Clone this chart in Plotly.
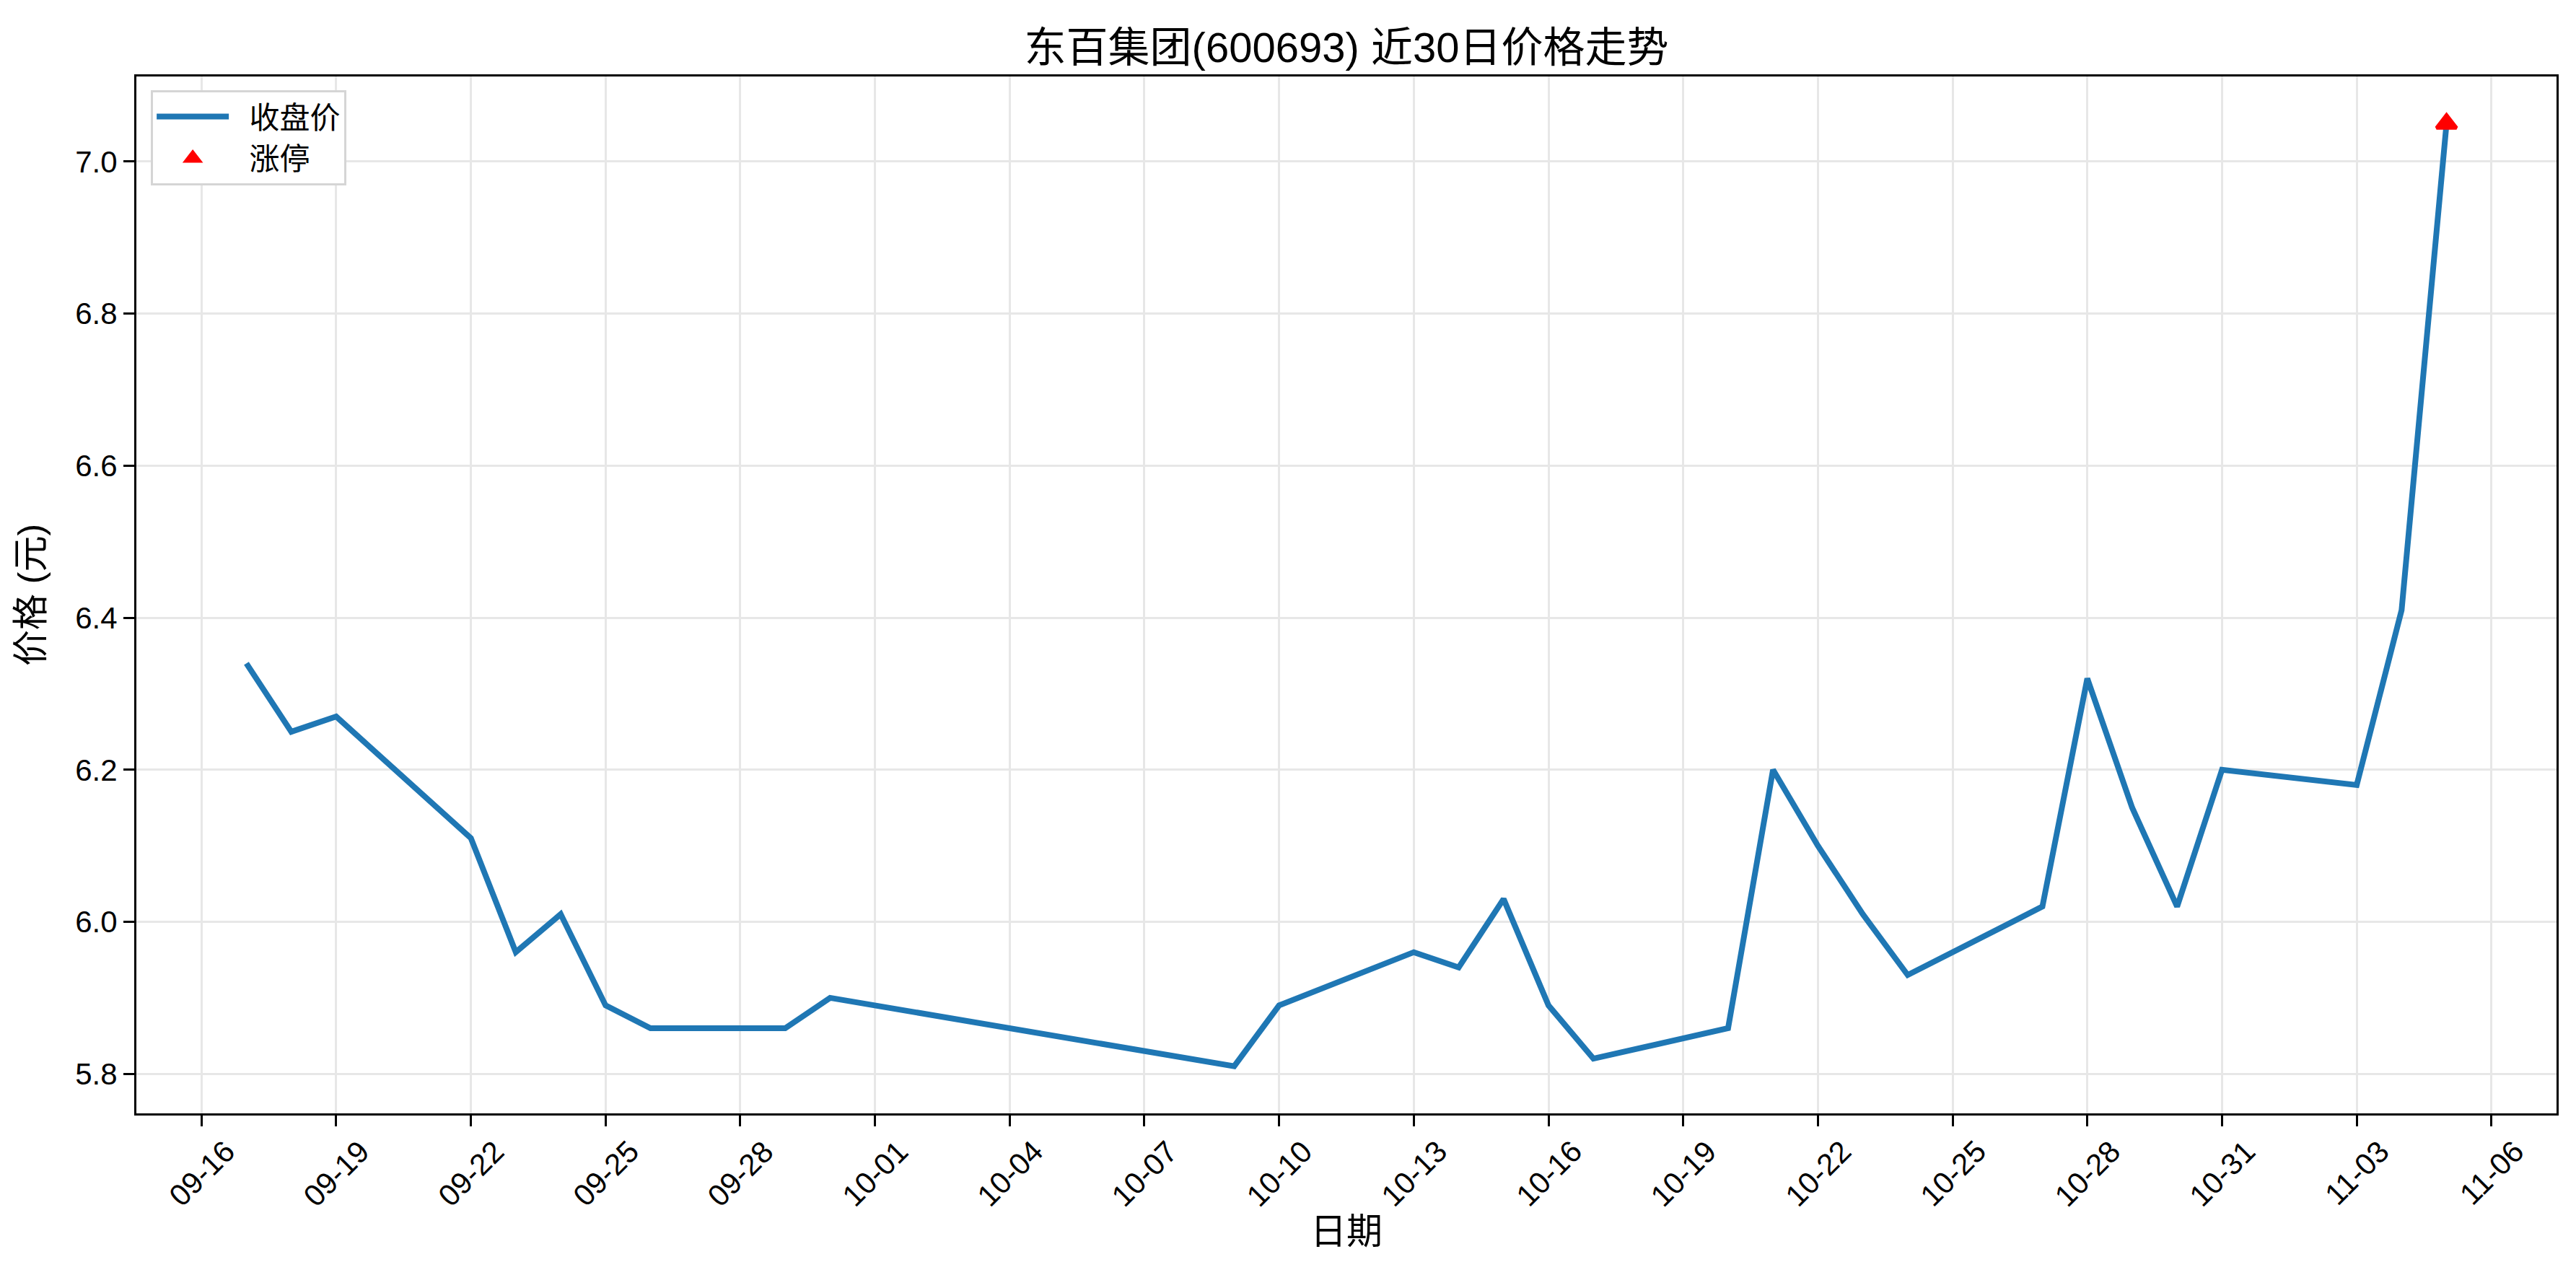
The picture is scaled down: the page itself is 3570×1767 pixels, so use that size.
import plotly.graph_objects as go

# closing prices, last 30 trading days (2025)
dates = [
    "2025-09-17", "2025-09-18", "2025-09-19", "2025-09-22", "2025-09-23",
    "2025-09-24", "2025-09-25", "2025-09-26", "2025-09-29", "2025-09-30",
    "2025-10-09", "2025-10-10", "2025-10-13", "2025-10-14", "2025-10-15",
    "2025-10-16", "2025-10-17", "2025-10-20", "2025-10-21", "2025-10-22",
    "2025-10-23", "2025-10-24", "2025-10-27", "2025-10-28", "2025-10-29",
    "2025-10-30", "2025-10-31", "2025-11-03", "2025-11-04", "2025-11-05",
]
close = [
    6.34, 6.25, 6.27, 6.11, 5.96,
    6.01, 5.89, 5.86, 5.86, 5.90,
    5.81, 5.89, 5.96, 5.94, 6.03,
    5.89, 5.82, 5.86, 6.20, 6.10,
    6.01, 5.93, 6.02, 6.32, 6.15,
    6.02, 6.20, 6.18, 6.41, 7.05,
]

limit_up_dates = ["2025-11-05"]
limit_up_close = [7.05]

tick_dates = [
    "2025-09-16", "2025-09-19", "2025-09-22", "2025-09-25", "2025-09-28",
    "2025-10-01", "2025-10-04", "2025-10-07", "2025-10-10", "2025-10-13",
    "2025-10-16", "2025-10-19", "2025-10-22", "2025-10-25", "2025-10-28",
    "2025-10-31", "2025-11-03", "2025-11-06",
]
tick_labels = [d[5:] for d in tick_dates]

FONT = "Liberation Sans, Noto Sans CJK SC, sans-serif"
GRID = "#e7e7e7"
PAD = "\u00a0\u00a0"  # little gap between legend symbol and its text

fig = go.Figure()

fig.add_scatter(
    x=dates, y=close, mode="lines", name=PAD + "收盘价",
    line=dict(color="#1f77b4", width=8),
)
# outline makes the triangle bigger in the legend too (legend caps marker size)
fig.add_scatter(
    x=limit_up_dates, y=limit_up_close, mode="markers", name=PAD + "涨停",
    marker=dict(symbol="triangle-up", color="red", size=24, line=dict(color="red", width=5)),
)

# matplotlib-style rotated tick labels, centred under each tick
for d, label in zip(tick_dates, tick_labels):
    fig.add_annotation(
        x=d, y=0, xref="x", yref="paper", text=label, showarrow=False,
        textangle=-45, xanchor="center", yanchor="top", yshift=-26,
        font=dict(family=FONT, size=42, color="black"),
    )

fig.add_annotation(
    x=0.5, y=-0.114, xref="paper", yref="paper", text="日期", showarrow=False,
    xanchor="center", yanchor="middle", font=dict(family=FONT, size=50, color="black"),
)

fig.update_xaxes(
    type="date",
    range=["2025-09-14 13:12", "2025-11-07 10:48"],
    tickmode="linear", tick0="2025-09-16", dtick=3 * 86400000,
    showticklabels=False,
    ticks="outside", ticklen=15, tickwidth=3, tickcolor="black",
    showgrid=True, gridcolor=GRID, gridwidth=3,
    showline=True, linecolor="black", linewidth=3, mirror=True,
    zeroline=False,
)
fig.update_yaxes(
    range=[5.748, 7.112],
    tickmode="linear", tick0=5.8, dtick=0.2, tickformat=".1f",
    ticks="outside", ticklen=15, tickwidth=3, tickcolor="black",
    tickfont=dict(family=FONT, size=42, color="black"),
    showgrid=True, gridcolor=GRID, gridwidth=3,
    showline=True, linecolor="black", linewidth=3, mirror=True,
    zeroline=False,
    title=dict(text="价格 (元)", font=dict(family=FONT, size=50, color="black"), standoff=28),
)

fig.update_layout(
    width=3570, height=1767,
    margin=dict(l=181, r=35, t=98, b=232, autoexpand=False),
    paper_bgcolor="white", plot_bgcolor="white",
    title=dict(
        text="东百集团(600693) 近30日价格走势",
        x=0.5, xref="paper", xanchor="center",
        y=1 - 58 / 1767, yref="container", yanchor="middle",
        font=dict(family=FONT, size=58, color="black"),
    ),
    legend=dict(
        x=0.006, y=0.987, xanchor="left", yanchor="top",
        bgcolor="white", bordercolor="#d5d5d5", borderwidth=3,
        font=dict(family=FONT, size=42, color="black"),
        itemwidth=100, tracegroupgap=0,
    ),
    showlegend=True,
)

fig.write_html("out.html")
